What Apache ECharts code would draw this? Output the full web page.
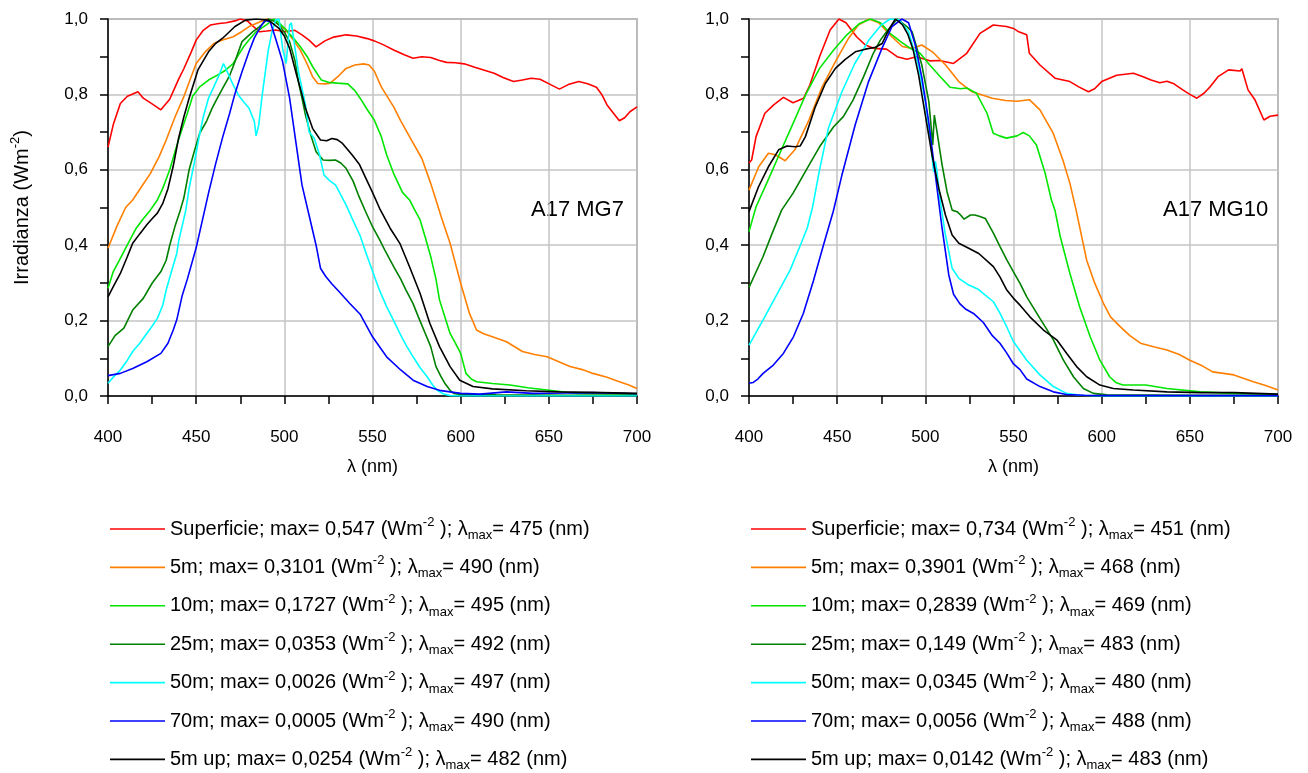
<!DOCTYPE html>
<html>
<head>
<meta charset="utf-8">
<script src="https://cdn.jsdelivr.net/npm/echarts@6/dist/echarts.min.js"></script>
<style>html,body{margin:0;padding:0;background:#fff}#c{width:1308px;height:773px}</style>
</head>
<body>
<div id="c"></div>
<script>
// ---------- DATA ----------
const depths = ['Superficie', '5m', '10m', '25m', '50m', '70m', '5m up'];
const colors = ['#ff0000', '#ff8000', '#00e600', '#008000', '#00ffff', '#0000ff', '#000000'];
const mg7Max = ['0,547', '0,3101', '0,1727', '0,0353', '0,0026', '0,0005', '0,0254'];
const mg7Lmax = [475, 490, 495, 492, 497, 490, 482];
const mg10Max = ['0,734', '0,3901', '0,2839', '0,149', '0,0345', '0,0056', '0,0142'];
const mg10Lmax = [451, 468, 469, 483, 480, 488, 483];
const panelTitles = ['A17 MG7', 'A17 MG10'];
const xTicks = [400, 450, 500, 550, 600, 650, 700];
const yTicks = [0, 0.2, 0.4, 0.6, 0.8, 1.0];

const mg7_sup = [[400,0.66],[403,0.72],[407,0.776],[411,0.795],[417,0.807],[420,0.79],[425,0.775],[430,0.759],[435,0.787],[440,0.84],[443,0.868],[447,0.91],[450,0.944],[454,0.97],[458,0.984],[463,0.988],[467,0.99],[472,0.995],[475,1.0],[479,0.995],[483,0.978],[486,0.966],[490,0.968],[495,0.971],[500,0.966],[506,0.97],[510,0.958],[514,0.944],[518,0.926],[523,0.942],[528,0.952],[535,0.958],[541,0.955],[547,0.948],[551,0.942],[556,0.932],[562,0.918],[568,0.905],[573,0.896],[578,0.9],[583,0.898],[588,0.89],[592,0.885],[597,0.884],[602,0.881],[608,0.872],[613,0.865],[619,0.856],[624,0.845],[630,0.834],[635,0.838],[640,0.843],[645,0.84],[651,0.826],[656,0.814],[661,0.826],[667,0.834],[672,0.828],[677,0.819],[680,0.8],[683,0.772],[687,0.748],[690,0.73],[693,0.738],[696,0.754],[700,0.767]];
const mg7_5m = [[400,0.392],[405,0.45],[410,0.5],[414,0.52],[419,0.555],[424,0.59],[429,0.635],[433,0.679],[438,0.74],[443,0.794],[447,0.845],[450,0.882],[455,0.912],[460,0.935],[465,0.944],[471,0.953],[476,0.967],[480,0.98],[485,0.99],[490,1.0],[493,0.998],[497,0.985],[501,0.971],[505,0.945],[509,0.918],[513,0.88],[516,0.847],[519,0.829],[523,0.828],[526,0.83],[531,0.85],[535,0.869],[540,0.878],[545,0.881],[548,0.878],[551,0.862],[555,0.82],[562,0.767],[566,0.73],[571,0.688],[578,0.63],[583,0.564],[586,0.52],[589,0.475],[594,0.405],[600,0.299],[605,0.219],[609,0.175],[613,0.165],[618,0.157],[626,0.144],[635,0.118],[642,0.11],[649,0.104],[656,0.09],[662,0.078],[669,0.07],[675,0.06],[683,0.05],[690,0.038],[695,0.03],[700,0.02]];
const mg7_10m = [[400,0.286],[403,0.33],[407,0.365],[412,0.41],[416,0.445],[420,0.47],[424,0.493],[428,0.52],[431,0.55],[435,0.6],[440,0.68],[445,0.75],[448,0.795],[452,0.82],[457,0.838],[462,0.851],[466,0.862],[471,0.882],[474,0.905],[477,0.927],[480,0.945],[484,0.966],[490,0.985],[494,1.0],[497,0.99],[501,0.971],[505,0.95],[509,0.927],[513,0.9],[516,0.874],[521,0.838],[525,0.832],[530,0.83],[536,0.828],[540,0.81],[543,0.79],[547,0.76],[551,0.732],[555,0.688],[558,0.64],[562,0.59],[567,0.54],[571,0.52],[574,0.493],[577,0.467],[580,0.42],[583,0.37],[586,0.31],[588,0.255],[591,0.21],[594,0.166],[597,0.14],[600,0.113],[603,0.06],[606,0.045],[609,0.038],[618,0.033],[628,0.029],[638,0.022],[649,0.016],[660,0.01],[666,0.007],[680,0.006],[700,0.005]];
const mg7_25m = [[400,0.131],[404,0.16],[409,0.18],[414,0.228],[420,0.259],[425,0.299],[430,0.33],[433,0.36],[435,0.4],[438,0.45],[441,0.493],[443,0.525],[446,0.6],[449,0.65],[452,0.697],[456,0.73],[459,0.763],[462,0.79],[465,0.816],[469,0.85],[472,0.887],[476,0.94],[482,0.966],[486,0.98],[489,0.993],[491,1.0],[494,0.995],[497,0.984],[500,0.965],[503,0.94],[506,0.89],[508,0.834],[510,0.79],[512,0.745],[515,0.692],[518,0.648],[522,0.626],[526,0.625],[529,0.626],[532,0.618],[535,0.604],[539,0.57],[542,0.533],[546,0.49],[550,0.449],[554,0.415],[557,0.387],[562,0.343],[566,0.31],[569,0.281],[573,0.245],[576,0.21],[580,0.165],[583,0.131],[586,0.078],[589,0.05],[591,0.034],[594,0.015],[596,0.007],[600,0.004],[620,0.003],[660,0.002],[700,0.002]];
const mg7_50m = [[400,0.034],[403,0.05],[407,0.069],[411,0.095],[414,0.118],[418,0.14],[422,0.166],[425,0.185],[428,0.206],[431,0.24],[433,0.281],[436,0.33],[439,0.378],[440,0.409],[442,0.45],[444,0.49],[446,0.551],[449,0.62],[451.5,0.683],[454,0.74],[457,0.79],[460,0.82],[463,0.851],[465.5,0.882],[468.5,0.851],[471,0.825],[474,0.798],[477,0.78],[480,0.763],[483,0.728],[484,0.69],[485.5,0.719],[487.5,0.8],[489.5,0.869],[491,0.92],[493,0.966],[495,0.997],[497,1.0],[499,0.922],[501,0.882],[503,0.984],[504,0.99],[505.5,0.94],[508,0.86],[512,0.772],[514,0.701],[517,0.683],[520,0.639],[522.5,0.586],[526,0.57],[529,0.56],[535,0.507],[539,0.465],[543,0.425],[547,0.37],[550.5,0.325],[554,0.28],[558,0.237],[562,0.2],[565.5,0.166],[569,0.135],[573,0.104],[577,0.075],[581,0.051],[584,0.03],[586.5,0.016],[590,0.006],[594,0.001],[600,0],[700,0]];
const mg7_70m = [[400,0.054],[407,0.06],[414,0.073],[422,0.091],[430,0.113],[434,0.14],[437,0.175],[439,0.202],[442,0.265],[445,0.31],[450,0.393],[457,0.538],[461,0.615],[465,0.686],[469,0.75],[472,0.802],[476,0.86],[480,0.914],[483,0.95],[486,0.975],[489,0.997],[490,1.0],[492,0.993],[495,0.949],[499,0.887],[503,0.79],[506.5,0.675],[510,0.56],[514,0.48],[518,0.4],[520.5,0.339],[523.5,0.317],[527,0.297],[531,0.277],[537,0.246],[543,0.217],[550,0.157],[558,0.104],[566,0.069],[573,0.042],[581,0.025],[588,0.015],[600,0.007],[611,0.005],[626,0.011],[641,0.007],[660,0.008],[675,0.009],[700,0.006]];
const mg7_up = [[400,0.263],[403,0.29],[407,0.325],[411,0.37],[414,0.405],[418,0.43],[422,0.454],[425,0.47],[428,0.485],[431,0.51],[434,0.55],[437,0.61],[440,0.683],[443,0.74],[446,0.79],[451,0.865],[457,0.913],[461,0.935],[465,0.949],[472,0.98],[478,0.997],[484,1.0],[491,0.997],[497,0.975],[500,0.955],[503,0.922],[507,0.851],[510,0.8],[512,0.763],[516,0.71],[520.5,0.679],[524,0.677],[527,0.683],[530,0.68],[533,0.67],[538.5,0.639],[542.5,0.615],[546,0.58],[550,0.54],[554,0.498],[560,0.445],[565.5,0.405],[571,0.343],[577,0.272],[582.5,0.193],[588,0.131],[594,0.078],[599.5,0.042],[607,0.025],[618,0.019],[637,0.014],[656,0.011],[680,0.009],[700,0.007]];

const mg10_sup = [[400,0.618],[401.5,0.626],[404,0.688],[409,0.75],[414,0.772],[419.5,0.792],[425,0.778],[431,0.79],[434.5,0.825],[440,0.9],[446,0.971],[451,1.0],[455,0.99],[461,0.953],[466,0.931],[471,0.922],[478,0.92],[484,0.9],[489.5,0.893],[495,0.9],[502.5,0.889],[508,0.89],[516,0.882],[523.5,0.909],[531,0.962],[538.5,0.984],[546,0.98],[550,0.975],[553,0.966],[557.5,0.958],[559,0.909],[565,0.878],[573.5,0.843],[582,0.834],[587,0.82],[592.5,0.807],[596,0.815],[600,0.834],[608.5,0.851],[618,0.856],[623.5,0.847],[628,0.838],[633,0.831],[637,0.835],[641,0.828],[646,0.812],[650,0.8],[654,0.79],[658,0.803],[661.5,0.82],[666,0.847],[672,0.865],[678.5,0.862],[679.5,0.868],[683,0.812],[687,0.785],[692,0.732],[695.5,0.742],[700,0.745]];
const mg10_5m = [[400,0.546],[405.5,0.608],[411,0.644],[415,0.64],[420.5,0.624],[426,0.653],[434,0.732],[441.5,0.82],[449,0.887],[456.5,0.949],[462,0.984],[468,1.0],[473.5,0.99],[481,0.953],[487,0.927],[492.5,0.922],[498,0.931],[504,0.913],[511.5,0.878],[519,0.834],[526.5,0.807],[538,0.79],[545.5,0.784],[552,0.782],[559,0.786],[565,0.759],[572.5,0.697],[578,0.626],[582,0.564],[585.5,0.493],[591.5,0.36],[596,0.3],[601,0.246],[605,0.21],[610.5,0.184],[616,0.16],[622,0.14],[630,0.13],[637,0.122],[644,0.11],[650,0.095],[657,0.08],[663,0.064],[675,0.056],[686,0.038],[693,0.028],[700,0.016]];
const mg10_10m = [[400,0.436],[404,0.502],[410,0.564],[417.5,0.644],[425,0.723],[432.5,0.803],[440,0.869],[448,0.918],[455.5,0.958],[463,0.989],[469,1.0],[474.5,0.99],[480,0.962],[486,0.94],[491.5,0.922],[497,0.909],[502.5,0.878],[508.5,0.847],[514,0.819],[520,0.815],[523.5,0.817],[529,0.803],[535,0.75],[538.5,0.697],[542,0.69],[546,0.684],[552,0.69],[555.5,0.699],[559,0.69],[563,0.666],[568,0.59],[571.5,0.52],[573.5,0.493],[576.5,0.423],[582,0.325],[587.5,0.237],[593.5,0.157],[599,0.095],[604.5,0.051],[608,0.036],[612,0.029],[625,0.029],[637,0.02],[656,0.011],[675,0.007],[700,0.004]];
const mg10_25m = [[400,0.288],[408,0.37],[413,0.43],[418.5,0.493],[425,0.538],[432.5,0.6],[440,0.661],[448,0.714],[453.5,0.741],[459,0.785],[465,0.847],[470.5,0.909],[474.5,0.944],[478,0.966],[484,1.0],[489.5,0.98],[492.5,0.966],[498,0.878],[502,0.781],[504.2,0.666],[505.1,0.745],[506.6,0.701],[509.5,0.613],[512.3,0.542],[515.2,0.493],[518,0.489],[520,0.48],[522,0.469],[525.6,0.48],[528,0.48],[531,0.476],[534,0.471],[538.6,0.432],[542.3,0.397],[546.2,0.361],[549.9,0.33],[553.7,0.299],[557.5,0.263],[565,0.206],[572.6,0.149],[578.3,0.095],[584,0.051],[589.6,0.02],[595.3,0.007],[603,0.003],[650,0.002],[700,0.002]];
const mg10_50m = [[400,0.135],[408,0.202],[415.7,0.268],[423.3,0.334],[430,0.41],[433,0.445],[436,0.5],[440,0.6],[445,0.71],[452.7,0.807],[460,0.882],[468,0.944],[475,0.984],[480,1.0],[485,0.998],[490.5,0.966],[496,0.878],[500,0.781],[502.8,0.683],[504.7,0.595],[505.7,0.622],[506.5,0.6],[508.5,0.515],[511.4,0.427],[515.2,0.339],[519,0.312],[524,0.296],[530,0.283],[538.6,0.25],[542.3,0.22],[546,0.185],[550,0.144],[553.7,0.12],[557.5,0.095],[565,0.056],[572.6,0.025],[580,0.007],[587.7,0.002],[600,0],[700,0]];
const mg10_70m = [[400,0.034],[402.4,0.036],[405,0.045],[408,0.06],[413.8,0.082],[419.5,0.113],[425.2,0.157],[430.8,0.219],[436.5,0.305],[442.2,0.4],[447.8,0.49],[452.7,0.586],[460.2,0.719],[467.8,0.834],[475.4,0.922],[481.1,0.98],[486.7,1.0],[490.5,0.99],[494.3,0.931],[498.1,0.843],[501.9,0.728],[505.7,0.586],[509.5,0.445],[513.3,0.321],[516,0.27],[519.5,0.245],[523,0.23],[527.3,0.219],[532.9,0.195],[538,0.16],[542.3,0.14],[546,0.115],[550,0.085],[553.7,0.07],[557.5,0.045],[565,0.025],[572.6,0.011],[580,0.004],[590,0.002],[600,0.001],[700,0.001]];
const mg10_up = [[400,0.489],[405.4,0.555],[411,0.608],[416.8,0.653],[421.5,0.663],[426.3,0.661],[429,0.663],[432,0.688],[437.6,0.767],[443.3,0.829],[449,0.869],[454.6,0.893],[460.3,0.913],[466,0.92],[471.7,0.925],[475.5,0.935],[479.2,0.971],[483,1.0],[487,0.985],[490,0.96],[493,0.92],[496.2,0.851],[500,0.745],[503.8,0.639],[507.6,0.551],[511.4,0.48],[515.2,0.427],[519,0.405],[524.6,0.392],[530.3,0.378],[538.6,0.343],[542.3,0.316],[546.2,0.281],[550,0.259],[553.7,0.241],[559.3,0.21],[567,0.175],[574.5,0.149],[580.2,0.113],[585.8,0.078],[591.5,0.051],[599,0.029],[606.6,0.02],[618,0.016],[637,0.011],[656,0.009],[675,0.009],[700,0.005]];

const panels = [
  { data: [mg7_sup, mg7_5m, mg7_10m, mg7_25m, mg7_50m, mg7_70m, mg7_up], max: mg7Max, lmax: mg7Lmax },
  { data: [mg10_sup, mg10_5m, mg10_10m, mg10_25m, mg10_50m, mg10_70m, mg10_up], max: mg10Max, lmax: mg10Lmax }
];

// ---------- CHART ----------
const FONT = '"Liberation Sans", Arial, sans-serif';
const chart = echarts.init(document.getElementById('c'), null, { renderer: 'canvas' });

const gridLefts = [108, 749];
const richText = {};
const series = [];
const legends = [];
panels.forEach((p, pi) => {
  const names = [];
  p.data.forEach((d, si) => {
    const name = 'P' + pi + '_' + si;
    richText[name] = '{n|' + depths[si] + '; max= ' + p.max[si] + ' (Wm}{sup|-2}{n| ); λ}{sub|max}{n|= ' + p.lmax[si] + ' (nm)}';
    names.push(name);
    series.push({
      name: name, type: 'line', xAxisIndex: pi, yAxisIndex: pi,
      data: d, showSymbol: false, symbol: 'none', smooth: false,
      lineStyle: { color: colors[si], width: 1.6 }, itemStyle: { color: colors[si] },
      emphasis: { disabled: true }, animation: false
    });
  });
  legends.push({
    data: names, orient: 'vertical', left: gridLefts[pi] + 2, top: 516, padding: 0,
    icon: 'rect', itemWidth: 55, itemHeight: 1.6, itemGap: 12.4, itemTextGap: 7,
    selectedMode: false,
    formatter: n => richText[n],
    textStyle: {
      color: '#000', fontFamily: FONT, fontSize: 20,
      rich: {
        n: { color: '#000', fontFamily: FONT, fontSize: 20, lineHeight: 26 },
        sup: { color: '#000', fontFamily: FONT, fontSize: 13, lineHeight: 13, verticalAlign: 'top' },
        sub: { color: '#000', fontFamily: FONT, fontSize: 13, lineHeight: 13, verticalAlign: 'bottom' }
      }
    }
  });
});

function xAxisOf(i) {
  return {
    type: 'value', gridIndex: i, min: xTicks[0], max: xTicks[xTicks.length - 1], interval: 50,
    axisLine: { show: true, onZero: false, lineStyle: { color: '#000', width: 1.5 } },
    axisTick: { show: true, length: 8, lineStyle: { color: '#000', width: 1.5 } },
    minorTick: { show: true, splitNumber: 2, length: 8, lineStyle: { color: '#000', width: 1.5 } },
    splitLine: { show: true, lineStyle: { color: '#c4c4c4', width: 1.5 } },
    axisLabel: { margin: 33, fontSize: 17, color: '#000', fontFamily: FONT },
    name: 'λ (nm)', nameLocation: 'middle', nameGap: 62,
    nameTextStyle: { fontSize: 18, color: '#000', fontFamily: FONT }
  };
}
function yAxisOf(i) {
  const ax = {
    type: 'value', gridIndex: i, min: yTicks[0], max: yTicks[yTicks.length - 1], interval: 0.2,
    axisLine: { show: true, onZero: false, lineStyle: { color: '#000', width: 1.5 } },
    axisTick: { show: true, length: 8, lineStyle: { color: '#000', width: 1.5 } },
    minorTick: { show: true, splitNumber: 2, length: 8, lineStyle: { color: '#000', width: 1.5 } },
    splitLine: { show: true, lineStyle: { color: '#c4c4c4', width: 1.5 } },
    axisLabel: { margin: 20, fontSize: 17, color: '#000', fontFamily: FONT,
      formatter: v => v.toFixed(1).replace('.', ',') }
  };
  if (i === 0) {
    ax.name = 'Irradianza (Wm{sup|-2})';
    ax.nameLocation = 'middle';
    ax.nameGap = 73;
    ax.nameTextStyle = { fontSize: 20, color: '#000', fontFamily: FONT, lineHeight: 26,
      rich: { sup: { fontSize: 13, color: '#000', fontFamily: FONT, lineHeight: 13, verticalAlign: 'top' } } };
  }
  return ax;
}

const option = {
  backgroundColor: '#fff',
  animation: false,
  grid: gridLefts.map(l => ({ left: l, top: 19, width: 529, height: 377, show: true, borderColor: '#808080', borderWidth: 1.5, containLabel: false })),
  xAxis: [xAxisOf(0), xAxisOf(1)],
  yAxis: [yAxisOf(0), yAxisOf(1)],
  legend: legends,
  series: series,
  graphic: panelTitles.map((t, i) => ({
    type: 'text', left: gridLefts[i] + 423 - (i ? 9 : 0), top: 199,
    style: { text: t, font: '22px ' + FONT, fill: '#000' }
  }))
};
chart.setOption(option);
</script>
</body>
</html>
